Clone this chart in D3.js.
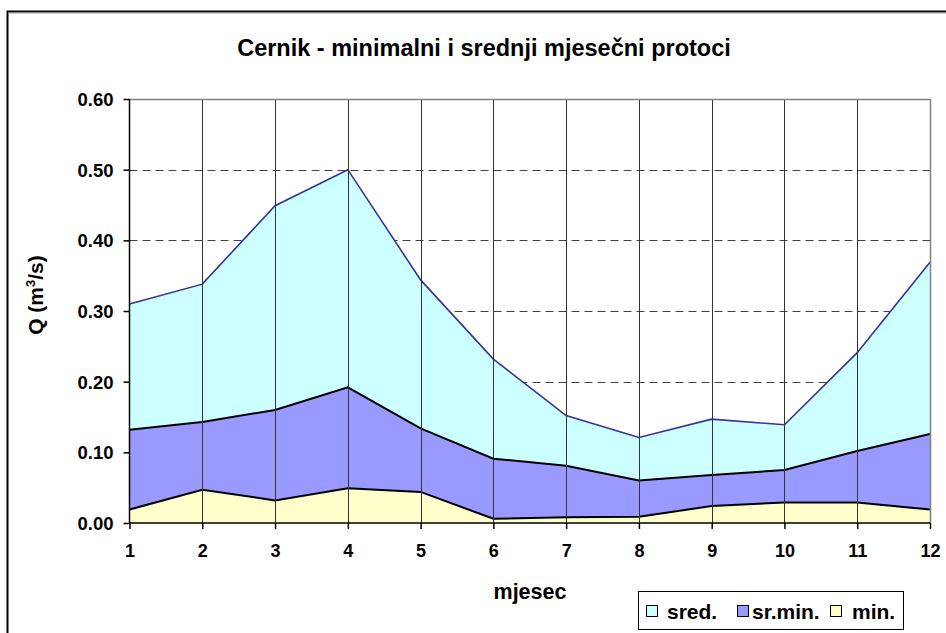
<!DOCTYPE html>
<html>
<head>
<meta charset="utf-8">
<script src="https://cdn.jsdelivr.net/npm/d3@7"></script>
<style>
  body { margin: 0; background: #fff; }
  text { font-family: Arial, "Liberation Sans", sans-serif; font-weight: bold; fill: #000; }
</style>
</head>
<body>
<svg id="chart" width="946" height="633"></svg>
<script>
// monthly data
var months = [1, 2, 3, 4, 5, 6, 7, 8, 9, 10, 11, 12];
var sred = [0.310, 0.338, 0.449, 0.500, 0.344, 0.232, 0.152, 0.121, 0.147, 0.139, 0.241, 0.369];
var srMin = [0.132, 0.143, 0.160, 0.192, 0.134, 0.091, 0.081, 0.060, 0.068, 0.075, 0.102, 0.126];
var minQ = [0.019, 0.047, 0.032, 0.049, 0.044, 0.006, 0.008, 0.009, 0.024, 0.029, 0.029, 0.019];
var yTicks = [0, 0.1, 0.2, 0.3, 0.4, 0.5, 0.6];

var series = [
  { name: 'sred.', values: sred, fill: '#CCFFFF', stroke: '#333399' },
  { name: 'sr.min.', values: srMin, fill: '#9999FF', stroke: '#000000' },
  { name: 'min.', values: minQ, fill: '#FFFFCC', stroke: '#000000' }
];

var svg = d3.select('#chart');

var plot = { left: 129.5, right: 930, top: 99, bottom: 523 };

var x = d3.scaleLinear().domain([1, 12]).range([plot.left, plot.right]);
var y = d3.scaleLinear().domain([0, 0.6]).range([plot.bottom, plot.top]);

// outer chart frame
svg.append('path')
  .attr('d', 'M7.5,640 V11.5 H950')
  .attr('fill', 'none')
  .attr('stroke', '#000')
  .attr('stroke-width', 2);
svg.append('line')
  .attr('x1', 8).attr('x2', 946).attr('y1', 13).attr('y2', 13)
  .attr('stroke', '#999').attr('stroke-width', 1);

// title
svg.append('text')
  .attr('x', 484)
  .attr('y', 56)
  .attr('text-anchor', 'middle')
  .attr('font-size', '23.5px')
  .text('Cernik - minimalni i srednji mjesečni protoci');

// horizontal dashed gridlines (behind areas)
svg.append('g')
  .selectAll('line')
  .data(yTicks.filter(function(d) { return d > 0 && d < 0.6; }))
  .enter().append('line')
  .attr('x1', plot.left).attr('x2', plot.right)
  .attr('y1', function(d) { return Math.round(y(d)) + 0.5; })
  .attr('y2', function(d) { return Math.round(y(d)) + 0.5; })
  .attr('stroke', '#404040')
  .attr('stroke-dasharray', '8,5');

// areas, drawn back to front
var area = d3.area()
  .x(function(d, i) { return x(months[i]); })
  .y0(y(0))
  .y1(function(d) { return y(d); });
var line = d3.line()
  .x(function(d, i) { return x(months[i]); })
  .y(function(d) { return y(d); });

series.forEach(function(s) {
  svg.append('path')
    .attr('d', area(s.values))
    .attr('fill', s.fill);
  svg.append('path')
    .attr('d', line(s.values))
    .attr('fill', 'none')
    .attr('stroke', s.stroke)
    .attr('stroke-width', s.stroke == '#333399' ? 1.6 : 2);
});

// vertical gridlines over the areas
svg.append('g')
  .selectAll('line')
  .data(months.slice(1, 11))
  .enter().append('line')
  .attr('x1', function(d) { return Math.round(x(d)) + 0.5; })
  .attr('x2', function(d) { return Math.round(x(d)) + 0.5; })
  .attr('y1', plot.top).attr('y2', plot.bottom)
  .attr('stroke', '#333')
  .attr('stroke-width', 1);

// plot border (top and right)
svg.append('path')
  .attr('d', 'M' + plot.left + ',' + (plot.top + 0.5) + ' H' + (plot.right + 0.5) + ' V' + plot.bottom)
  .attr('fill', 'none')
  .attr('stroke', '#808080')
  .attr('stroke-width', 1.5);

// axes
var yAxis = d3.axisLeft(y)
  .tickValues(yTicks)
  .tickFormat(d3.format('.2f'))
  .tickSize(6)
  .tickPadding(10);
var gy = svg.append('g')
  .attr('transform', 'translate(' + plot.left + ',0)')
  .call(yAxis);
gy.selectAll('text').attr('font-size', '18.5px').attr('font-family', null).attr('dy', '0.35em');
gy.selectAll('line, path').attr('stroke', '#000').attr('stroke-width', 1.5);

var xAxis = d3.axisBottom(x)
  .tickValues(months)
  .tickFormat(d3.format('d'))
  .tickSize(6)
  .tickPadding(15);
var gx = svg.append('g')
  .attr('transform', 'translate(0,' + plot.bottom + ')')
  .call(xAxis);
gx.selectAll('text').attr('font-size', '18px').attr('font-family', null);
gx.selectAll('line, path').attr('stroke', '#000').attr('stroke-width', 1.5);
gx.select('.domain').attr('d', 'M' + plot.left + ',0 H' + plot.right);
gy.select('.domain').attr('d', 'M0,' + plot.top + ' V' + plot.bottom);

// axis titles
svg.append('text')
  .attr('x', 530)
  .attr('y', 599)
  .attr('text-anchor', 'middle')
  .attr('font-size', '21.5px')
  .text('mjesec');

var yt = svg.append('text')
  .attr('transform', 'translate(43,295) rotate(-90)')
  .attr('text-anchor', 'middle')
  .attr('font-size', '21px');
yt.append('tspan').text('Q (m');
yt.append('tspan').attr('font-size', '13px').attr('dy', '-8').text('3');
yt.append('tspan').attr('dy', '8').text('/s)');

// legend
var legend = svg.append('g');
legend.append('rect')
  .attr('x', 638.5).attr('y', 591.5)
  .attr('width', 265).attr('height', 38)
  .attr('fill', '#fff')
  .attr('stroke', '#000')
  .attr('stroke-width', 1);

var legendX = [646, 737, 830];
var legendTextX = [667, 752, 852];
series.forEach(function(s, i) {
  legend.append('rect')
    .attr('x', legendX[i] + 0.5).attr('y', 605.5)
    .attr('width', 11).attr('height', 11)
    .attr('fill', s.fill)
    .attr('stroke', '#000')
    .attr('stroke-width', 1);
  legend.append('text')
    .attr('x', legendTextX[i])
    .attr('y', 619)
    .attr('font-size', '21px')
    .text(s.name);
});
</script>
</body>
</html>
